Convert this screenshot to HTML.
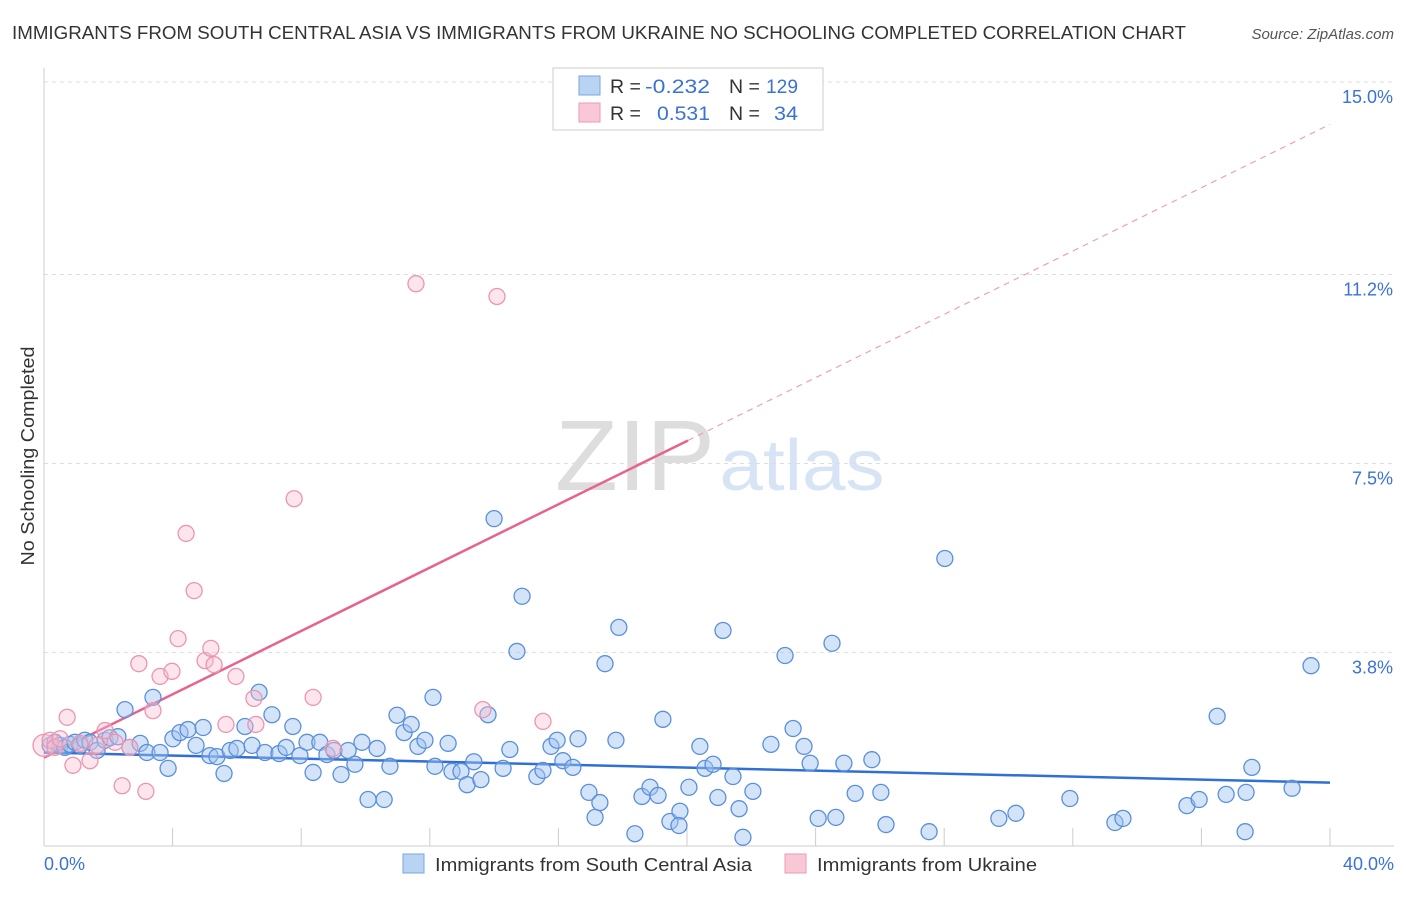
<!DOCTYPE html>
<html><head><meta charset="utf-8"><style>
body{margin:0;background:#fff;font-family:"Liberation Sans",sans-serif;}
svg text{font-family:"Liberation Sans",sans-serif;}
</style></head><body>
<svg id="chart" width="1406" height="892">
<text x="12" y="39" font-size="18" fill="#333" textLength="1174" lengthAdjust="spacingAndGlyphs">IMMIGRANTS FROM SOUTH CENTRAL ASIA VS IMMIGRANTS FROM UKRAINE NO SCHOOLING COMPLETED CORRELATION CHART</text>
<text x="1394" y="39" font-size="15" fill="#555" font-style="italic" text-anchor="end">Source: ZipAtlas.com</text>
<text transform="translate(34,456) rotate(-90)" font-size="18" fill="#333" text-anchor="middle" textLength="219" lengthAdjust="spacingAndGlyphs">No Schooling Completed</text>
<g>
<text x="635" y="490" font-size="100" fill="#ddd" font-family="Liberation Serif" text-anchor="middle" textLength="160" lengthAdjust="spacingAndGlyphs">ZIP</text>
<text x="802" y="490" font-size="72" fill="#d6e4f5" text-anchor="middle" textLength="165" lengthAdjust="spacingAndGlyphs">atlas</text>
</g>
<g id="grid"></g><g id="axes"></g><g id="trends"></g><g id="pts"></g>
<g>
<rect x="553" y="68" width="270" height="62" fill="#fff" stroke="#ccc"/>
<rect x="579" y="76" width="21" height="19" fill="#b9d3f3" stroke="#7aa5e0"/>
<rect x="579" y="103" width="21" height="19" fill="#f9c8d6" stroke="#ec9ab4"/>
<text x="610" y="93" font-size="19.5" fill="#333">R = </text><text x="645" y="93" font-size="19.5" fill="#3a72d6" textLength="65" lengthAdjust="spacingAndGlyphs">-0.232</text>
<text x="729" y="93" font-size="19.5" fill="#333">N = </text><text x="766" y="93" font-size="19.5" fill="#3a72d6" textLength="32" lengthAdjust="spacingAndGlyphs">129</text>
<text x="610" y="120" font-size="19.5" fill="#333">R = </text><text x="657" y="120" font-size="19.5" fill="#3a72d6" textLength="53" lengthAdjust="spacingAndGlyphs">0.531</text>
<text x="729" y="120" font-size="19.5" fill="#333">N = </text><text x="774" y="120" font-size="19.5" fill="#3a72d6" textLength="24" lengthAdjust="spacingAndGlyphs">34</text>
</g>
<g>
<rect x="403" y="854" width="21" height="19" fill="#b9d3f3" stroke="#7aa5e0"/>
<text x="435" y="871" font-size="18.5" fill="#333" textLength="317" lengthAdjust="spacingAndGlyphs">Immigrants from South Central Asia</text>
<rect x="785" y="854" width="21" height="19" fill="#f9c8d6" stroke="#ec9ab4"/>
<text x="817" y="871" font-size="18.5" fill="#333" textLength="220" lengthAdjust="spacingAndGlyphs">Immigrants from Ukraine</text>
</g>
</svg>
<script>
const yTicks=[3.8,7.5,11.2,15.0];
const yTickLabels=["3.8%","7.5%","11.2%","15.0%"];
const xTickLabels=["0.0%","40.0%"];
const blueX=[.19,.34,.50,.65,.81,.96,1.12,1.27,1.43,1.65,1.90,2.05,2.30,2.52,2.67,2.99,3.20,3.39,3.61,3.86,4.01,4.23,4.48,4.73,4.95,5.16,5.38,5.60,5.79,6.00,6.25,6.47,6.69,6.87,7.09,7.31,7.53,7.74,7.96,8.18,8.37,8.58,8.80,9.02,9.24,9.46,9.67,9.89,10.08,10.36,10.58,10.76,10.98,11.20,11.42,11.63,11.85,12.10,12.16,12.57,12.69,12.97,13.16,13.37,13.59,13.81,14.00,14.28,14.49,14.71,14.87,15.33,15.52,15.77,15.96,16.14,16.45,16.61,16.95,17.14,17.29,17.45,17.79,17.88,18.38,18.60,18.85,19.10,19.25,19.47,19.78,19.75,20.06,20.40,20.56,20.81,20.96,21.12,21.43,21.62,21.74,22.05,22.61,23.05,23.30,23.64,23.83,24.08,24.51,24.63,24.88,25.23,25.75,26.03,26.19,27.53,28.02,29.70,30.23,31.91,33.31,33.56,35.55,35.93,36.49,36.77,37.39,37.57,37.36,38.82,39.41];
const blueY=[1.98,2.04,1.98,1.94,2.00,2.04,1.98,2.08,2.04,1.88,2.08,2.13,2.15,2.68,1.94,2.02,1.84,2.92,1.84,1.53,2.11,2.23,2.29,1.98,2.33,1.78,1.76,1.43,1.88,1.92,2.35,1.98,3.02,1.84,2.58,1.82,1.94,2.35,1.78,2.04,1.45,2.04,1.80,1.88,1.41,1.88,1.61,2.04,0.92,1.92,0.92,1.57,2.57,2.23,2.39,1.96,2.08,2.92,1.57,2.02,1.47,1.47,1.21,1.66,1.31,2.58,6.42,1.53,1.90,3.82,4.90,1.37,1.49,1.96,2.08,1.68,1.55,2.11,1.06,0.57,0.86,3.58,2.08,4.29,0.25,0.98,1.16,1.00,2.49,0.49,0.69,0.41,1.16,1.96,1.53,1.61,0.96,4.23,1.37,0.74,0.18,1.08,2.00,3.74,2.31,1.96,1.63,0.55,3.98,0.57,1.63,1.04,1.70,1.06,0.43,0.29,5.64,0.55,0.65,0.94,0.47,0.55,0.80,0.92,2.55,1.02,1.06,1.55,0.29,1.14,3.54];
const pinkX=[0,.19,.34,.50,.72,.90,1.12,1.43,1.65,1.90,2.21,2.43,2.67,2.95,3.17,3.39,3.61,3.98,4.17,4.42,4.67,5.01,5.19,5.29,5.66,5.97,6.53,6.59,7.78,8.37,8.99,11.57,14.09,13.65,15.52];
const pinkY=[1.98,2.08,1.94,2.11,2.53,1.59,2.02,1.68,1.98,2.27,2.04,1.19,1.94,3.58,1.08,2.66,3.33,3.43,4.07,6.13,5.01,3.64,3.88,3.56,2.39,3.33,2.90,2.39,6.81,2.92,1.92,11.02,10.77,2.68,2.45];
const blueTrend=[1.84,1.25]; // at x=0 and x=40
const pinkTrend=[1.74,7.95,14.14]; // at x=0, 20.03 (solid end), 40
const pinkSolidEnd=20.03;
const X0=44,X1=1330,Y0=846.5,PY=51.07;
const sx=v=>X0+(X1-X0)*v/40, sy=v=>Y0-v*PY;
const NS="http://www.w3.org/2000/svg";
function mk(parent,tag,attrs){const e=document.createElementNS(NS,tag);for(const k in attrs)e.setAttribute(k,attrs[k]);document.getElementById(parent).appendChild(e);return e;}
yTicks.forEach((t,i)=>{
 const gy=i===3?82:sy(t);
 const l=mk('grid','line',{x1:44,x2:1394,y1:gy,y2:gy,stroke:'#ddd','stroke-dasharray':'4,4'});
 
 
 const tx=mk('grid','text',{x:1393,y:gy+21,'font-size':18,fill:'#3a72d6','text-anchor':'end'});
 tx.textContent=yTickLabels[i];
 
 
});
let ax=mk('axes','line',{x1:44,x2:44,y1:68,y2:846,stroke:'#ccc'});


ax=mk('axes','line',{x1:44,x2:1394,y1:846,y2:846,stroke:'#ccc'});


for(let i=0;i<=10;i++){const x=sx(i*4);const t=mk('axes','line',{x1:x,x2:x,y1:828,y2:846,stroke:'#ccc'});
 
 }
[[0,'start',44],[1,'end',1394]].forEach(([i,a,x])=>{const t=mk('axes','text',{x:x,y:870,'font-size':18,fill:'#3a72d6','text-anchor':a});t.textContent=xTickLabels[i];
 
 });
let tl=mk('trends','line',{x1:sx(0),y1:sy(blueTrend[0]),x2:sx(40),y2:sy(blueTrend[1]),stroke:'#2f6fd6','stroke-width':2.5});


tl=mk('trends','line',{x1:sx(0),y1:sy(pinkTrend[0]),x2:sx(pinkSolidEnd),y2:sy(pinkTrend[1]),stroke:'#e8628f','stroke-width':2.5});


tl=mk('trends','line',{x1:sx(pinkSolidEnd),y1:sy(pinkTrend[1]),x2:sx(40),y2:sy(pinkTrend[2]),stroke:'#eea0b8','stroke-width':1.2,'stroke-dasharray':'6,5'});


blueX.forEach((x,i)=>{const c=mk('pts','circle',{cx:sx(x),cy:sy(blueY[i]),r:8,fill:'rgba(160,195,240,0.45)',stroke:'#5a8fdc','stroke-width':1.3});
 
 });
pinkX.forEach((x,i)=>{const c=mk('pts','circle',{cx:sx(x),cy:sy(pinkY[i]),r:i===0?11:8,fill:'rgba(248,190,208,0.4)',stroke:'#ec95b1','stroke-width':1.3});
 
 });
</script>
</body></html>
